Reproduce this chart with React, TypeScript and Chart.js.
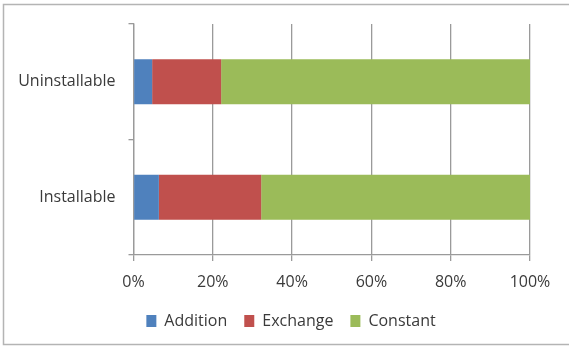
import React, { useEffect, useRef } from "react";
import { Chart, registerables } from "chart.js";

Chart.register(...registerables);

const categories = ["Uninstallable", "Installable"];
const additionValues = [4.7, 6.4];
const exchangeValues = [17.4, 25.8];
const constantValues = [77.9, 67.8];
const tickLabels = ["0%", "20%", "40%", "60%", "80%", "100%"];

const FONT = "'Open Sans', sans-serif";
const TEXT = "#3a3a3a";
const GRID = "#9a9a9a";

const framePlugin = {
  id: "frame",
  beforeDraw(chart: any) {
    const ctx = chart.ctx;
    ctx.save();
    ctx.fillStyle = "#ffffff";
    ctx.fillRect(0, 0, chart.width, chart.height);
    ctx.strokeStyle = "#b4b4b4";
    ctx.lineWidth = 1.5;
    ctx.strokeRect(3.5, 4.5, chart.width + 10, chart.height - 7);
    ctx.restore();
  },
};

const legendShiftPlugin = {
  id: "legendShift",
  afterLayout(chart: any) {
    const lg = chart.legend;
    if (lg) {
      lg.left += 26;
      lg.right += 26;
    }
  },
};

export default function App() {
  const ref = useRef<HTMLCanvasElement>(null);
  useEffect(() => {
    document.body.style.margin = "0";
    const chart = new Chart(ref.current!, {
      type: "bar",
      data: {
        labels: categories,
        datasets: [
          { label: "Addition", data: additionValues, backgroundColor: "#4F81BD" },
          { label: "Exchange", data: exchangeValues, backgroundColor: "#C0504D" },
          { label: "Constant", data: constantValues, backgroundColor: "#9BBB59" },
        ],
      },
      options: {
        indexAxis: "y",
        animation: false,
        responsive: false,
        maintainAspectRatio: false,
        datasets: { bar: { barPercentage: 0.39, categoryPercentage: 1 } },
        layout: { padding: { top: 24, right: 39, bottom: 8, left: 0 } },
        plugins: {
          tooltip: { enabled: false },
          legend: {
            position: "bottom",
            labels: {
              boxWidth: 10,
              boxHeight: 12,
              padding: 17,
              color: TEXT,
              font: { family: FONT, size: 16 },
              generateLabels: (c: any) =>
                c.data.datasets.map((d: any, i: number) => ({
                  text: d.label,
                  fillStyle: d.backgroundColor,
                  strokeStyle: d.backgroundColor,
                  lineWidth: 0,
                  datasetIndex: i,
                  fontColor: TEXT,
                })),
            },
          },
        },
        scales: {
          x: {
            stacked: true,
            min: 0,
            max: 100,
            afterFit: (s: any) => { s.height = 41; },
            afterBuildTicks: (s: any) => {
              s.ticks = tickLabels.map((_, i) => ({ value: i * 20 }));
            },
            ticks: {
              color: TEXT,
              font: { family: FONT, size: 16 },
              padding: 12,
              callback: (_v: any, i: number) => tickLabels[i],
            },
            grid: { color: GRID, lineWidth: 1.3, tickLength: 6, drawOnChartArea: true },
            border: { color: GRID, width: 1.3 },
          },
          y: {
            stacked: true,
            afterFit: (s: any) => { s.width = 133.5; },
            ticks: {
              color: TEXT,
              font: { family: FONT, size: 16 },
              padding: 13,
            },
            grid: { drawOnChartArea: false, color: GRID, lineWidth: 1.3, tickLength: 5, offset: true },
            border: { color: GRID, width: 1.3 },
          },
        },
      },
      plugins: [framePlugin, legendShiftPlugin],
    } as any);
    return () => chart.destroy();
  }, []);
  return (
    <div style={{ position: "absolute", left: 0, top: 0, width: 569, height: 347 }}>
      <canvas ref={ref} width={569} height={347} style={{ display: "block" }} />
    </div>
  );
}
